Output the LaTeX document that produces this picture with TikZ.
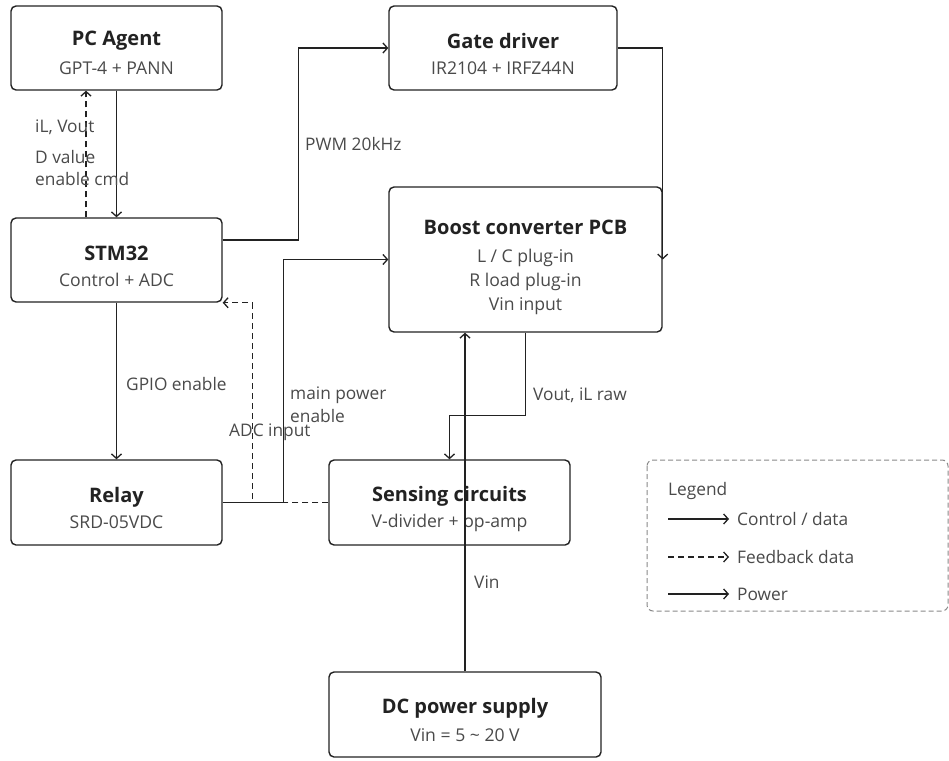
\documentclass[tikz,border=0pt]{standalone}
\usepackage{fontspec}
\setmainfont{Open Sans}
\usetikzlibrary{arrows.meta}
\definecolor{ink}{HTML}{222222}
\definecolor{txtgray}{HTML}{4A4A4A}
\definecolor{legendgray}{HTML}{8A8A8A}
\tikzset{
  box/.style={draw=ink, line width=1.4pt, rounded corners=5pt, inner sep=0pt},
  ttl/.style={font=\fontsize{20}{23}\selectfont\bfseries, text=ink, inner sep=0pt},
  sub/.style={font=\fontsize{17.6}{20}\selectfont, text=txtgray, inner sep=0pt},
  lbl/.style={font=\fontsize{17.3}{20}\selectfont, text=txtgray, inner sep=0pt, anchor=west},
  ctl/.style={draw=ink, line width=1.4pt, -{Straight Barb[length=4.5pt,width=10pt,line width=1.3pt]}},
  fb/.style={ctl, dash pattern=on 6pt off 4pt},
}
\begin{document}
\begin{tikzpicture}[x=1pt,y=-1pt]
\useasboundingbox (0,0) rectangle (949,760);
\fill[white] (0,0) rectangle (949,760);
% boxes
\node[box, minimum width=211pt, minimum height=84pt] (pc) at (116.5,48) {};
\node[ttl] (pct) at (116.5,41) {PC Agent};
\node[sub] (pcs) at (116.5,68) {GPT-4 + PANN};

\node[box, minimum width=228pt, minimum height=84pt] (gate) at (503,48) {};
\node[ttl] (gatet) at (503,41) {Gate driver};
\node[sub] (gates) at (503,68) {IR2104 + IRFZ44N};

\node[box, minimum width=211pt, minimum height=84pt] (stm) at (116.5,260) {};
\node[ttl] (stmt) at (116.5,253) {STM32};
\node[sub] (stms) at (116.5,280) {Control + ADC};

\node[box, minimum width=273pt, minimum height=145pt] (boost) at (525.5,259.5) {};
\node[ttl] (boostt) at (525.5,227) {Boost converter PCB};
\node[sub] (boost1) at (525.5,258) {L / C plug-in};
\node[sub] (boost2) at (525.5,282) {R load plug-in};
\node[sub] (boost3) at (525.5,306) {Vin input};

\node[box, minimum width=211pt, minimum height=85pt] (relay) at (116.5,502.5) {};
\node[ttl] (relayt) at (116.5,497) {Relay};
\node[sub] (relays) at (116.5,522) {SRD-05VDC};

\node[box, minimum width=241pt, minimum height=85pt] (sense) at (449.5,502.5) {};
\node[ttl] (senset) at (449.5,496) {Sensing circuits};
\node[sub] (senses) at (449.5,523) {V-divider + op-amp};

\node[box, minimum width=272pt, minimum height=85pt] (dc) at (465,714.5) {};
\node[ttl] (dct) at (465,708) {DC power supply};
\node[sub] (dcs) at (465,735) {Vin = 5 \textasciitilde{} 20 V};

% connectors
\draw[ctl] (pc.south) -- (stm.north);
\draw[fb] ([xshift=-30.5pt]stm.north) -- ([xshift=-30.5pt]pc.south);
\draw[ctl] ([yshift=20pt]stm.east) -- ++(76,0) |- (gate.west);
\draw[ctl] (gate.east) -| (boost.east);
\draw[ctl] (relay.east) -- ++(61,0) |- (boost.west);
\draw[fb] (sense.west) -- ++(-76,0) |- (stm.south east);
\draw[ctl] (stm.south) -- (relay.north);
\draw[ctl] (boost.south) -- ++(0,83) -| (sense.north);
\draw[ctl] (dc.north) -- (dc.north |- boost.south);

% labels
\node[lbl] (l1) at (35,127) {iL, Vout};
\node[lbl] (l2) at (35,157) {D value};
\node[lbl] (l3) at (35,179) {enable cmd};
\node[lbl] (l4) at (305,144) {PWM 20kHz};
\node[lbl] (l5) at (126,384) {GPIO enable};
\node[lbl] (l6) at (290,395) {main power};
\node[lbl] (l7) at (290,416) {enable};
\node[lbl] (l8) at (229,432) {ADC input};
\node[lbl] (l9) at (533,395) {Vout, iL raw};
\node[lbl] (l10) at (474,582) {Vin};

% legend
\draw[legendgray, line width=1pt, dash pattern=on 5pt off 3pt, rounded corners=6pt] (647,460) rectangle (948,611);
\node[lbl] (lg) at (668,491) {Legend};
\coordinate (a1) at (668,519); \coordinate (b1) at (729,519);
\coordinate (a2) at (668,557); \coordinate (b2) at (729,557);
\coordinate (a3) at (668,594); \coordinate (b3) at (729,594);
\draw[ctl] (a1) -- (b1);
\draw[fb] (a2) -- (b2);
\draw[ctl] (a3) -- (b3);
\node[lbl] (lg1) at (737,519) {Control / data};
\node[lbl] (lg2) at (737,557) {Feedback data};
\node[lbl] (lg3) at (737,594) {Power};
\end{tikzpicture}
\end{document}
